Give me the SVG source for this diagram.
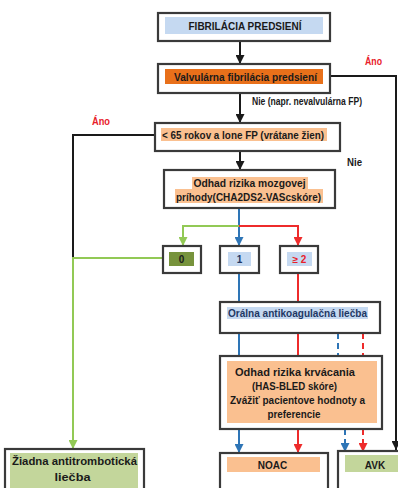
<svg xmlns="http://www.w3.org/2000/svg" width="398" height="488" viewBox="0 0 398 488">
<style>
.box{fill:#fff;stroke:#3a3a3a;stroke-width:2.2}
.t{font-family:"Liberation Sans",Arial,sans-serif;font-weight:bold;font-size:10px;fill:#1a1a1a}
.c{text-anchor:middle}
.red{fill:#e8202a}
.navy{fill:#1f3864}
.k{fill:none;stroke:#1a1a1a;stroke-width:2}
.b{fill:none;stroke:#2e75b6;stroke-width:2}
.r{fill:none;stroke:#ee2b2b;stroke-width:2}
.g{fill:none;stroke:#92c955;stroke-width:2}
.d{stroke-dasharray:6 4}
</style>
<defs>
<marker id="ak" viewBox="0 0 10 10" refX="10" refY="5" markerWidth="4.5" markerHeight="4.5" orient="auto" markerUnits="strokeWidth"><path d="M0,0L10,5L0,10z" fill="#1a1a1a"/></marker>
<marker id="ab" viewBox="0 0 10 10" refX="10" refY="5" markerWidth="4.5" markerHeight="4.5" orient="auto" markerUnits="strokeWidth"><path d="M0,0L10,5L0,10z" fill="#2e75b6"/></marker>
<marker id="ar" viewBox="0 0 10 10" refX="10" refY="5" markerWidth="4.5" markerHeight="4.5" orient="auto" markerUnits="strokeWidth"><path d="M0,0L10,5L0,10z" fill="#ee2b2b"/></marker>
<marker id="ag" viewBox="0 0 10 10" refX="10" refY="5" markerWidth="4.5" markerHeight="4.5" orient="auto" markerUnits="strokeWidth"><path d="M0,0L10,5L0,10z" fill="#92c955"/></marker>
</defs>
<rect width="398" height="488" fill="#fff"/>
<g id="connectors">
<path class="k" d="M240,41V64" marker-end="url(#ak)"/>
<path class="k" d="M330,76H396V450" marker-end="url(#ak)"/>
<path class="k" d="M240,93V123" marker-end="url(#ak)"/>
<path class="k" d="M155,135H73V258"/>
<path class="k" d="M240,151V170" marker-end="url(#ak)"/>
<path class="b" d="M239,208V246" marker-end="url(#ab)"/>
<path class="g" d="M239,226H183V246" marker-end="url(#ag)"/>
<path class="r" d="M239,226H298V246" marker-end="url(#ar)"/>
<path class="g" d="M163,258H73V449" marker-end="url(#ag)"/>
<path class="b" d="M239,273V302"/>
<path class="r" d="M298,273V302"/>
<path class="b" d="M239,333V356"/>
<path class="r" d="M298,333V356"/>
<path class="b d" d="M338,333V356"/>
<path class="r d" d="M363,333V356"/>
<path class="b" d="M239,429V453" marker-end="url(#ab)"/>
<path class="r" d="M298,429V453" marker-end="url(#ar)"/>
<path class="b d" d="M345,429V452" marker-end="url(#ab)"/>
<path class="r d" d="M363,429V452" marker-end="url(#ar)"/>
</g>
<g id="labels">
<text class="t red" x="365" y="65" textLength="17" lengthAdjust="spacingAndGlyphs">Áno</text>
<text class="t" x="252" y="105" font-size="9" textLength="110" lengthAdjust="spacingAndGlyphs">Nie (napr. nevalvulárna FP)</text>
<text class="t red" x="92" y="125" textLength="18" lengthAdjust="spacingAndGlyphs">Áno</text>
<text class="t" x="347" y="166" textLength="15" lengthAdjust="spacingAndGlyphs">Nie</text>
</g>
<g id="n1">
<rect class="box" x="158" y="13" width="172" height="28"/>
<rect x="165" y="17" width="158" height="17" fill="#c5d9f1"/>
<text class="t c" x="245" y="29.5" fill="#262640" textLength="113" lengthAdjust="spacingAndGlyphs">FIBRILÁCIA PREDSIENÍ</text>
</g>
<g id="n2">
<rect class="box" x="158" y="64" width="172" height="29"/>
<rect x="165" y="69" width="158" height="15" fill="#e8701a"/>
<text class="t c" x="245.5" y="80.5" textLength="143" lengthAdjust="spacingAndGlyphs">Valvulárna  fibrilácia predsiení</text>
</g>
<g id="n3">
<rect class="box" x="155" y="123" width="185" height="28"/>
<rect x="161" y="128" width="166" height="13" fill="#fac090"/>
<text class="t" x="162" y="138.5" textLength="162" lengthAdjust="spacingAndGlyphs">&lt; 65 rokov a lone FP (vrátane žien)</text>
</g>
<g id="n4">
<rect class="box" x="164" y="170" width="171" height="38"/>
<rect x="192" y="177" width="116" height="12" fill="#fac090"/>
<rect x="175" y="189" width="148" height="14" fill="#fac090"/>
<text class="t c" x="249.5" y="186.5" textLength="112" lengthAdjust="spacingAndGlyphs">Odhad  rizika  mozgovej</text>
<text class="t c" x="248.5" y="200.5" textLength="145" lengthAdjust="spacingAndGlyphs">príhody(CHA2DS2-VAScskóre)</text>
</g>
<g id="n5">
<rect class="box" x="163" y="246" width="38" height="27"/>
<rect x="169" y="252" width="25" height="14" fill="#77933c"/>
<text class="t c" x="181.5" y="263">0</text>
</g>
<g id="n6">
<rect class="box" x="220" y="246" width="39" height="27"/>
<rect x="228" y="252" width="23" height="14" fill="#c5d9f1"/>
<text class="t c navy" x="239.5" y="263">1</text>
</g>
<g id="n7">
<rect class="box" x="280" y="246" width="38" height="27"/>
<rect x="287" y="252" width="25" height="14" fill="#c5d9f1"/>
<text class="t c red" x="299.5" y="263">≥ 2</text>
</g>
<g id="n8">
<rect class="box" x="220" y="302" width="160" height="31"/>
<rect x="227" y="307" width="141" height="12" fill="#c5d9f1"/>
<text class="t navy" x="228" y="316.5" textLength="139" lengthAdjust="spacingAndGlyphs">Orálna  antikoagulačná liečba</text>
</g>
<g id="n9">
<rect class="box" x="220" y="356" width="162" height="73"/>
<rect x="227" y="361" width="150" height="62" fill="#fac090"/>
<text class="t c" x="295" y="376" textLength="120" lengthAdjust="spacingAndGlyphs">Odhad  rizika  krvácania</text>
<text class="t c" x="294.5" y="390" textLength="85" lengthAdjust="spacingAndGlyphs">(HAS-BLED skóre)</text>
<text class="t c" x="297.5" y="404" textLength="135" lengthAdjust="spacingAndGlyphs">Zvážiť pacientove hodnoty  a</text>
<text class="t c" x="294" y="418" textLength="53" lengthAdjust="spacingAndGlyphs">preferencie</text>
</g>
<g id="n10">
<rect class="box" x="5" y="449" width="139" height="45"/>
<rect x="10" y="453" width="128" height="35" fill="#c3d69b"/>
<text class="t c" x="74.5" y="465" textLength="125" lengthAdjust="spacingAndGlyphs">Žiadna  antitrombotická</text>
<text class="t c" x="72.5" y="481" textLength="36" lengthAdjust="spacingAndGlyphs">liečba</text>
</g>
<g id="n11">
<rect class="box" x="220" y="453" width="108" height="45"/>
<rect x="227" y="457" width="93" height="15" fill="#fac090"/>
<text class="t c" x="272.5" y="468.5">NOAC</text>
</g>
<g id="n12">
<rect class="box" x="338" y="451" width="70" height="45"/>
<rect x="345" y="455" width="55" height="17" fill="#c3d69b"/>
<text class="t c" x="375" y="468.5">AVK</text>
</g>
</svg>
